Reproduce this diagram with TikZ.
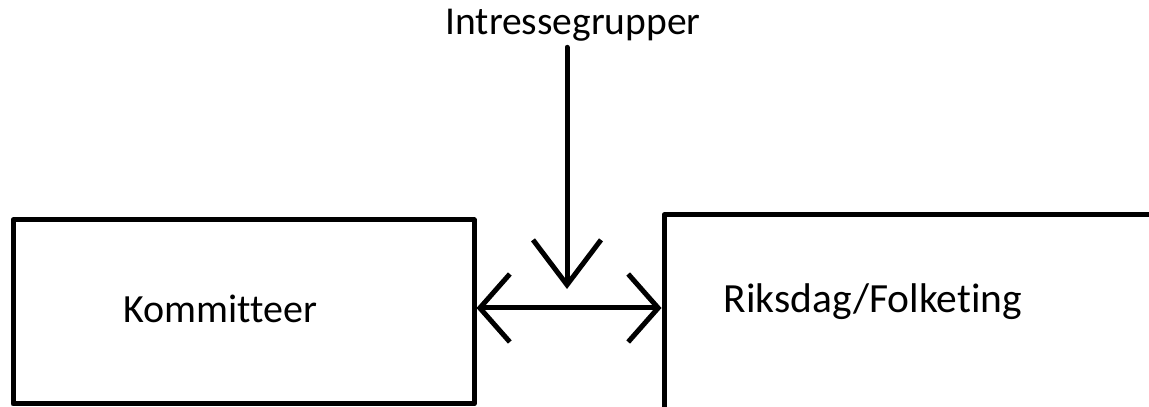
\documentclass[tikz,border=0pt]{standalone}
\usepackage{fontspec}
\setmainfont{Carlito}[Ligatures=NoCommon]
\usetikzlibrary{arrows.meta}
\begin{document}
\begin{tikzpicture}[x=1pt, y=1pt, line width=5pt, line join=round, line cap=round,
	box/.style={draw, line width=5pt, inner sep=0pt},
	lbl/.style={font=\fontsize{40}{48}\selectfont, anchor=base, inner sep=0pt},
	barb/.style={-{Straight Barb[length=45pt, width=68pt]}},
	dbarb/.style={{Straight Barb[length=30pt, width=68pt]}-{Straight Barb[length=30pt, width=68pt]}}]
	\useasboundingbox (0,0) rectangle (1149,407);
	\clip (0,0) rectangle (1149,407);
	\node[box, minimum width=461pt, minimum height=184pt] (komm) at (243.5,95) {};
	\node[box, minimum width=500pt, minimum height=210pt] (riks) at (914,87) {};
	\node[lbl] (kommtxt) at (220,84) {Kommitteer};
	\node[lbl, font=\fontsize{41.5}{48}\selectfont] (rikstxt) at (873,94) {Riksdag/Folketing};
	\node[lbl, font=\fontsize{39.5}{46}\selectfont] (intr) at (573,372) {Intressegrupper};
	\coordinate (tip) at (567,118);
	\draw[dbarb] (komm.east |- 0,99) -- (riks.west |- 0,99);
	\draw[barb] ([yshift=-3pt]intr.south -| tip) -- (tip);
\end{tikzpicture}
\end{document}
